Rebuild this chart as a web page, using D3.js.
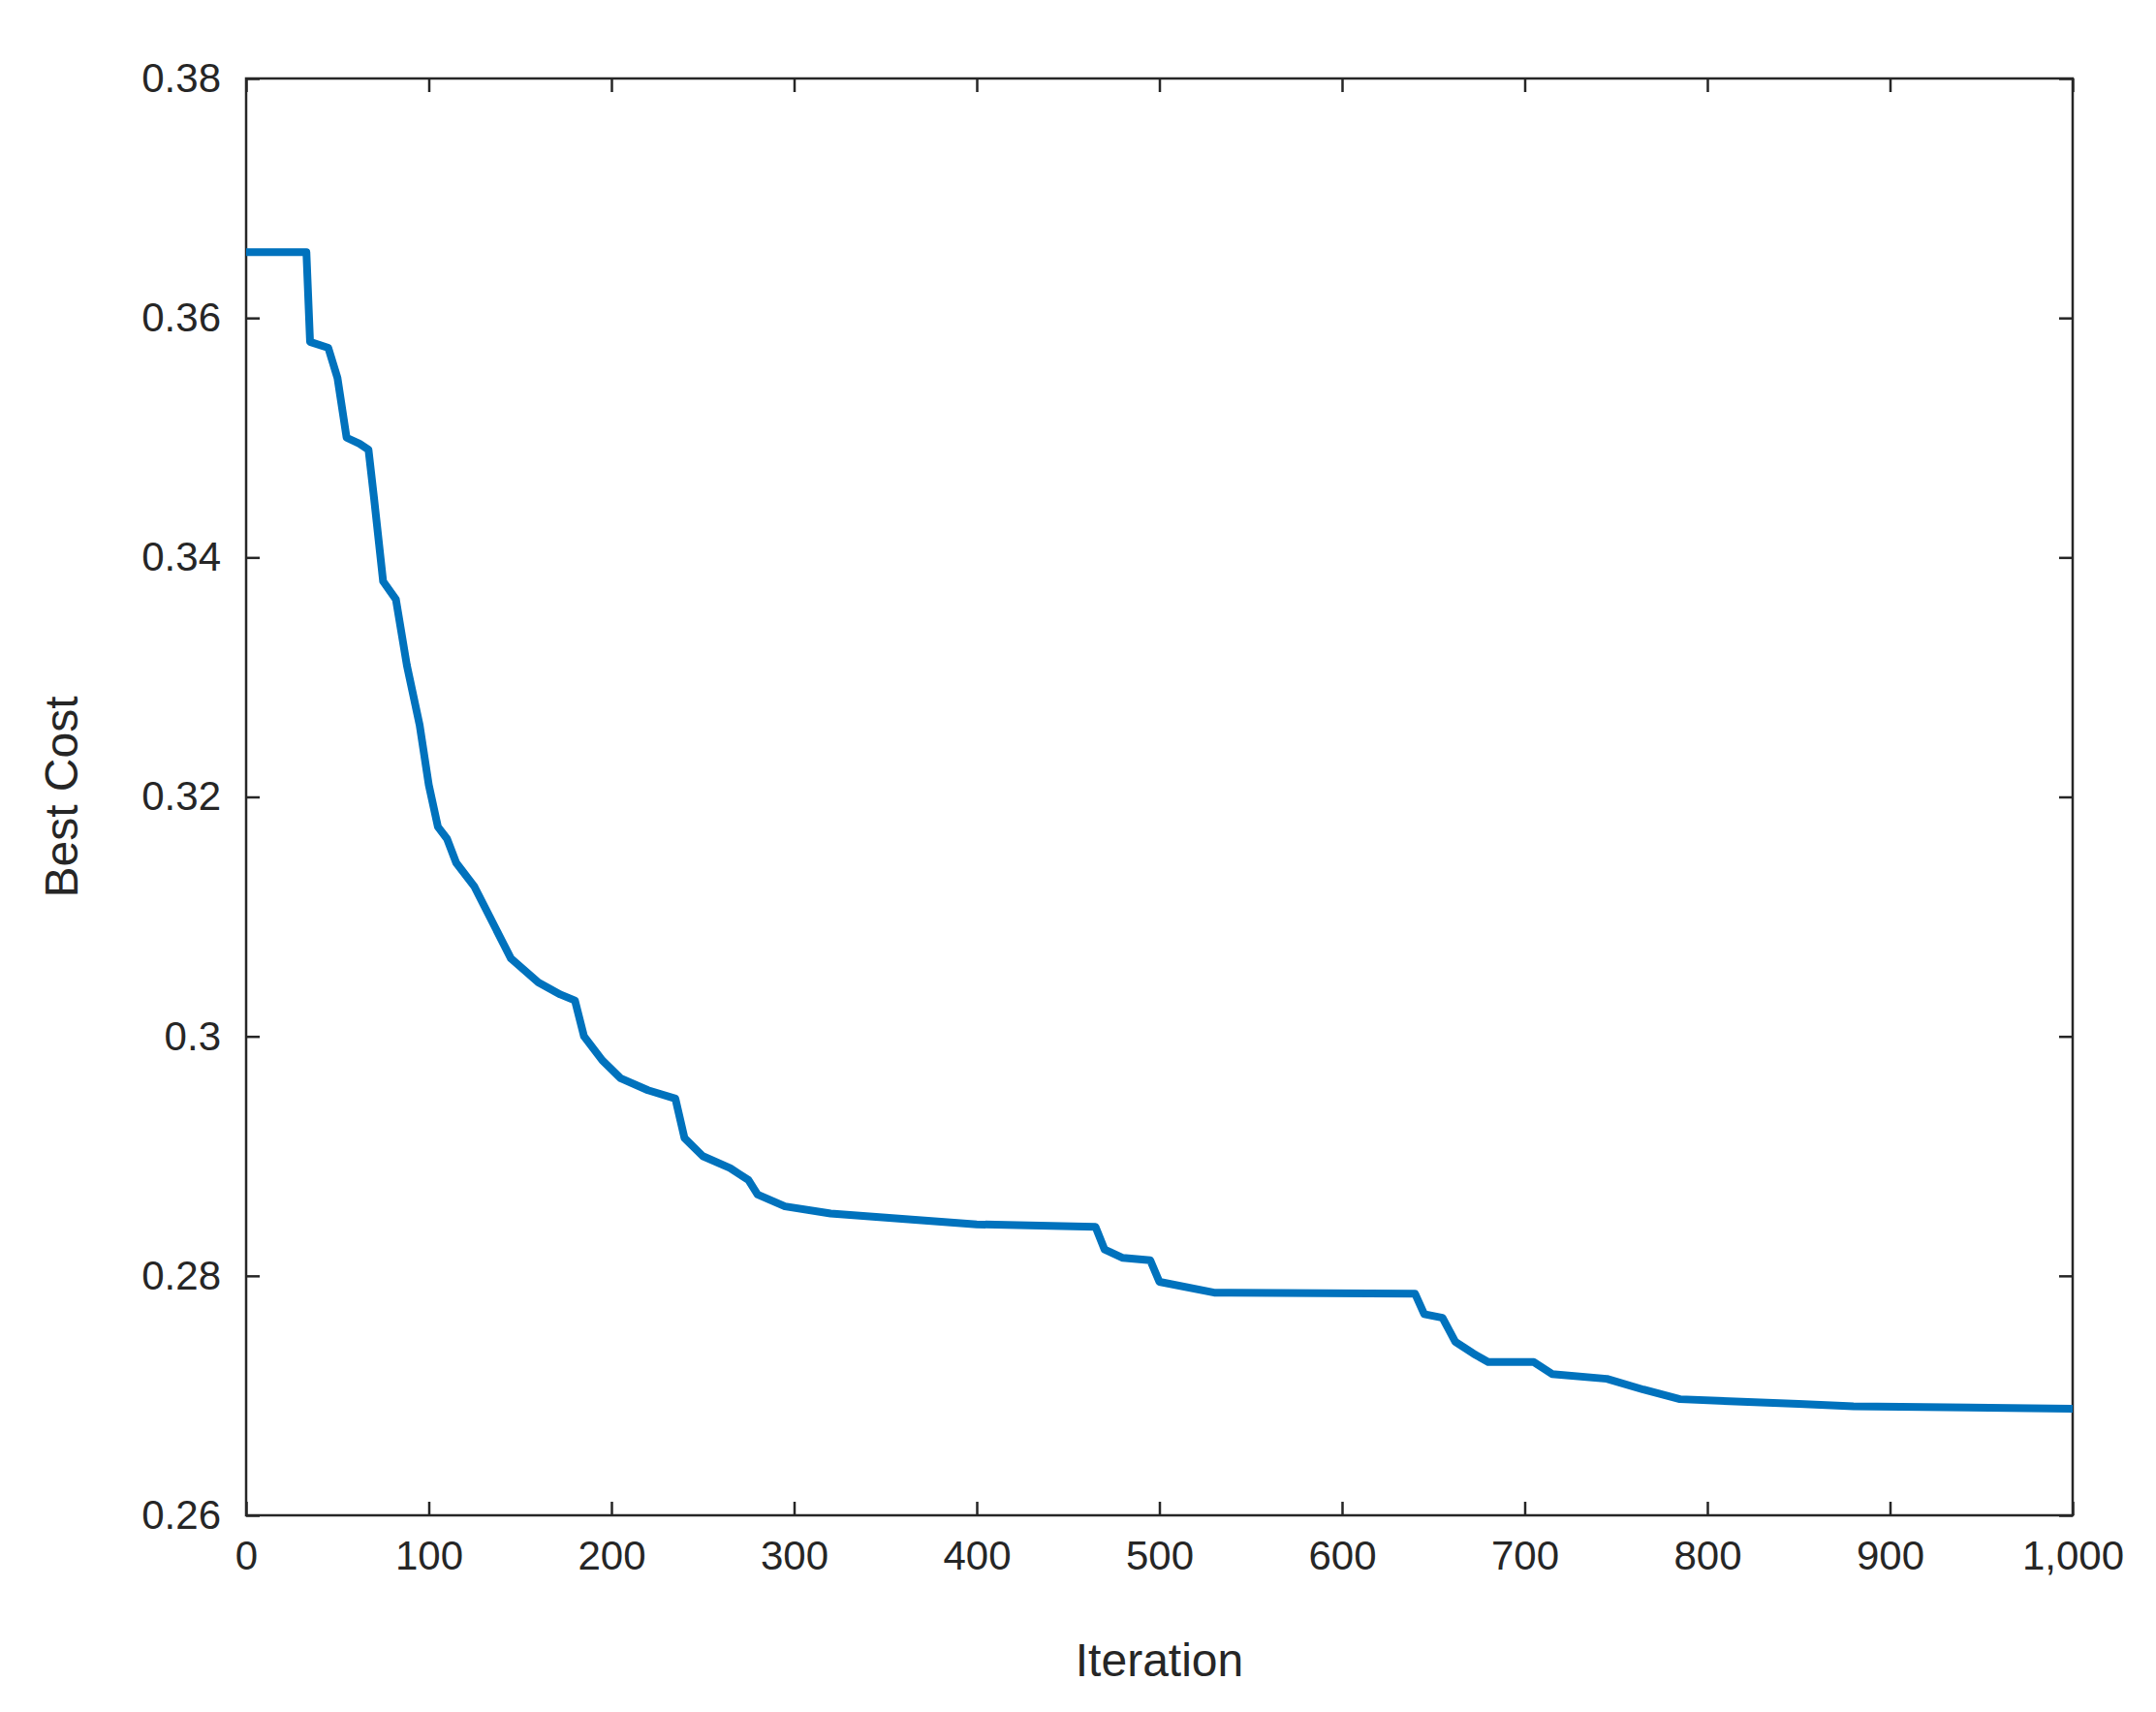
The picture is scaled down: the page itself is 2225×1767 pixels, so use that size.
<!DOCTYPE html>
<html><head><meta charset="utf-8">
<script src="https://cdn.jsdelivr.net/npm/d3@7"></script>
<style>body{margin:0;background:#fff}text{font-family:"Liberation Sans",Arial,sans-serif;fill:#262626}</style>
</head><body>
<svg id="chart" width="2225" height="1767"></svg>
<script>
// best cost per iteration
var iterations = [0,33,35,45,50,55,62,67,70,75,82,88,95,100,105,110,115,125,135,145,160,172,180,185,195,205,220,235,240,250,265,275,280,295,320,400,465,470,480,495,500,530,640,645,655,662,672,680,705,715,745,765,785,850,880,1000];
var bestCost = [0.3655,0.3655,0.358,0.3575,0.355,0.350,0.3495,0.349,0.345,0.338,0.3365,0.331,0.326,0.321,0.3175,0.3165,0.3145,0.3125,0.3095,0.3065,0.3045,0.3035,0.303,0.300,0.298,0.2965,0.2955,0.2948,0.2915,0.290,0.289,0.288,0.2868,0.2858,0.2852,0.2843,0.2841,0.2822,0.2815,0.2813,0.2795,0.2786,0.2785,0.2768,0.2765,0.2745,0.2735,0.2728,0.2728,0.2718,0.2714,0.2705,0.2697,0.2693,0.2691,0.2689];
var xTicks = [0,100,200,300,400,500,600,700,800,900,1000];
var yTicks = [0.26,0.28,0.3,0.32,0.34,0.36,0.38];

var L = 254, R = 2139, T = 81, B = 1564;
var svg = d3.select("#chart");
var x = d3.scaleLinear().domain([0,1000]).range([L,R]);
var y = d3.scaleLinear().domain([0.26,0.38]).range([B,T]);
var fmt = function(d){ return String(+d.toFixed(2)); };

function axis(g, a){
    g.call(a);
    g.select(".domain").remove();
    g.selectAll("line").attr("stroke","#262626").attr("stroke-width",2.5);
    g.selectAll("text").style("font-size","42px").attr("fill","#262626");
}
svg.append("g").attr("transform","translate(0,"+B+")")
    .call(function(g){ axis(g, d3.axisBottom(x).tickValues(xTicks).tickSizeInner(-14).tickSizeOuter(0).tickPadding(26)); });
svg.append("g").attr("transform","translate(0,"+T+")")
    .call(function(g){ axis(g, d3.axisTop(x).tickValues(xTicks).tickSizeInner(-14).tickSizeOuter(0).tickFormat("")); });
svg.append("g").attr("transform","translate("+L+",0)")
    .call(function(g){ axis(g, d3.axisLeft(y).tickValues(yTicks).tickSizeInner(-14).tickSizeOuter(0).tickPadding(26).tickFormat(fmt)); });
svg.append("g").attr("transform","translate("+R+",0)")
    .call(function(g){ axis(g, d3.axisRight(y).tickValues(yTicks).tickSizeInner(-14).tickSizeOuter(0).tickFormat("")); });

svg.append("rect").attr("x",L).attr("y",T).attr("width",R-L).attr("height",B-T)
    .attr("fill","none").attr("stroke","#262626").attr("stroke-width",2.5);

var pts = iterations.map(function(d,i){ return [d, bestCost[i]]; });
svg.append("path").datum(pts)
    .attr("fill","none").attr("stroke","#0072BD").attr("stroke-width",8)
    .attr("stroke-linejoin","round")
    .attr("d", d3.line().x(function(d){return x(d[0]);}).y(function(d){return y(d[1]);}));

svg.append("text").attr("x",(L+R)/2).attr("y",1730).attr("text-anchor","middle")
    .style("font-size","48px").text("Iteration");
svg.append("text").attr("transform","translate(80,"+((T+B)/2)+") rotate(-90)")
    .attr("text-anchor","middle").style("font-size","48px").text("Best Cost");
</script>
</body></html>
